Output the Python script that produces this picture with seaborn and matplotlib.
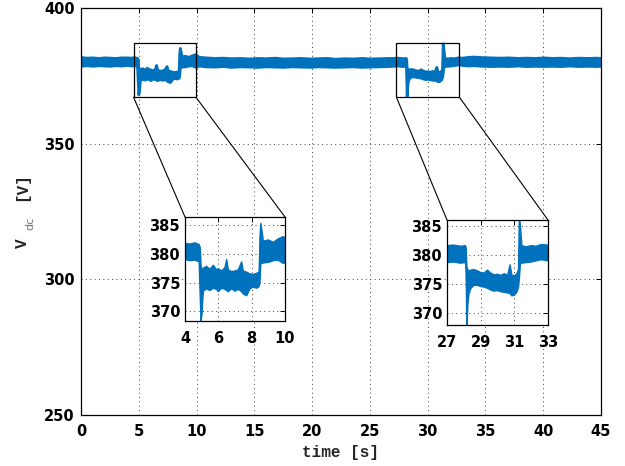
import matplotlib
matplotlib.use("Agg")
import matplotlib.pyplot as plt
import pandas as pd
import seaborn as sns
from matplotlib.patches import Rectangle, ConnectionPatch

# ---------------- data ----------------
time_s = [0.0, 0.5, 1.0, 1.5, 2.0, 2.5, 3.0, 3.5, 4.0, 4.3, 4.6, 4.85,
          4.92, 4.96, 5.02, 5.1, 5.3, 5.5, 5.7, 5.9, 6.0, 6.2, 6.4, 6.5,
          6.6, 6.8, 7.0, 7.2, 7.4, 7.5, 7.7, 7.9, 8.1, 8.3, 8.45, 8.5,
          8.55, 8.62, 8.7, 9.0, 9.3, 9.6, 9.9, 10.2,
          10.8, 11.5, 12.3, 13.0, 13.8, 14.5, 15.3, 16.0, 16.8, 17.5,
          18.3, 19.0, 19.8, 20.5, 21.3, 22.0, 22.8, 23.5, 24.3, 25.0,
          25.8, 26.5, 27.0, 27.4, 27.8, 28.1,
          28.14, 28.18, 28.24, 28.3, 28.4, 28.6, 28.8, 29.0, 29.2, 29.4,
          29.6, 29.8, 30.0, 30.2, 30.4, 30.6, 30.75, 30.85, 31.0, 31.15,
          31.25, 31.3, 31.36, 31.45, 31.7, 32.0, 32.3, 32.6, 33.0,
          33.5, 34.0, 34.7, 35.5, 36.3, 37.0, 37.8, 38.5, 39.3, 40.0,
          40.8, 41.5, 42.3, 43.0, 43.8, 44.5, 45.0]
v_high = [381.9, 381.7, 381.8, 381.6, 381.8, 381.7, 381.6, 381.8, 381.8, 381.7, 381.9, 381.6,
          381.0, 378.0, 377.0, 377.5, 377.8, 377.3, 378.0, 377.2, 377.4, 377.0, 377.6, 379.0,
          377.2, 376.9, 377.0, 377.2, 378.6, 377.0, 376.8, 376.5, 376.4, 376.6, 376.8, 383.0,
          385.3, 384.0, 382.2, 382.4, 382.0, 382.6, 383.0, 382.0,
          381.8, 381.6, 381.7, 381.5, 381.6, 381.4, 381.6, 381.5, 381.7, 381.4,
          381.5, 381.6, 381.4, 381.5, 381.6, 381.3, 381.5, 381.4, 381.6, 381.4,
          381.5, 381.6, 381.6, 381.7, 381.5, 381.6,
          381.2, 378.0, 377.5, 377.2, 377.4, 377.5, 377.3, 377.0, 376.9, 377.4,
          376.9, 376.6, 376.7, 376.5, 376.8, 376.5, 378.3, 376.6, 376.4, 376.8,
          377.5, 387.0, 385.0, 381.6, 381.4, 381.6, 381.5, 381.8, 381.7,
          382.0, 382.1, 381.9, 381.8, 381.7, 381.8, 381.6, 381.7, 381.6, 381.8,
          381.6, 381.7, 381.5, 381.7, 381.6, 381.7, 381.6]
v_low = [378.7, 378.9, 378.7, 378.9, 378.8, 378.7, 378.9, 378.8, 379.0, 378.8, 378.9, 378.6,
         372.0, 368.2, 369.5, 373.5, 373.9, 373.6, 374.0, 373.8, 373.4, 374.0, 373.8, 373.6,
         373.4, 373.9, 373.5, 373.8, 373.4, 373.0, 372.7, 373.9, 374.2, 374.0, 374.3, 375.0,
         378.5, 378.3, 378.4, 378.5, 378.8, 378.9, 378.3, 378.8,
         378.5, 378.4, 378.6, 378.3, 378.5, 378.4, 378.3, 378.5, 378.4, 378.3,
         378.5, 378.4, 378.3, 378.5, 378.4, 378.3, 378.4, 378.5, 378.3, 378.4,
         378.5, 378.6, 378.7, 378.8, 378.6, 378.7,
         377.0, 367.5, 371.5, 373.2, 374.2, 374.8, 374.8, 374.6, 374.5, 374.3,
         374.0, 373.8, 373.9, 373.7, 373.6, 373.5, 373.4, 373.0, 373.1, 373.6,
         374.5, 376.0, 378.5, 378.6, 378.7, 378.8, 379.0, 379.2, 379.0,
         378.8, 378.9, 378.7, 378.6, 378.7, 378.6, 378.8, 378.6, 378.7, 378.6,
         378.7, 378.6, 378.8, 378.6, 378.7, 378.6, 378.7]

main_xticks = [0, 5, 10, 15, 20, 25, 30, 35, 40, 45]
main_yticks = [250, 300, 350, 400]
inset1_xticks = [4, 6, 8, 10]
inset2_xticks = [27, 29, 31, 33]
inset_yticks = [370, 375, 380, 385]

# ---------------- styling ----------------
sns.set_theme(style="white")
plt.rcParams["font.family"] = ["DejaVu Sans"]
BLUE = "#0072BD"

df = pd.DataFrame({"time": time_s + time_s, "V": v_low + v_high})

W, H = 625, 466
fig = plt.figure(figsize=(W / 100, H / 100), dpi=100)


def px_axes(left, top, right, bottom):
    return fig.add_axes([left / W, 1 - bottom / H, (right - left) / W, (bottom - top) / H])


def draw_signal(ax, edge_lw):
    sns.lineplot(data=df, x="time", y="V", ax=ax, color=BLUE, estimator="mean",
                 errorbar=("pi", 100), linewidth=1.0, legend=False,
                 err_kws=dict(alpha=1, linewidth=edge_lw, edgecolor=BLUE, facecolor=BLUE))


def style(ax, xticks, yticks, xlim, ylim, size, xpad, ypad):
    ax.set_xlim(*xlim)
    ax.set_ylim(*ylim)
    ax.set_xticks(xticks)
    ax.set_yticks(yticks)
    ax.set_xticklabels([str(v) for v in xticks], fontweight="bold", fontsize=size)
    ax.set_yticklabels([str(v) for v in yticks], fontweight="bold", fontsize=size)
    ax.set_xlabel("")
    ax.set_ylabel("")
    ax.grid(True, linestyle=(0, (1, 3.5)), color="0.25", linewidth=0.7)
    ax.tick_params(axis="both", direction="in", top=True, right=True, length=3.5,
                   width=0.7, color="black", labelcolor="black")
    ax.tick_params(axis="x", pad=xpad)
    ax.tick_params(axis="y", pad=ypad)
    for s in ax.spines.values():
        s.set_color("black")
        s.set_linewidth(0.9)
        s.set_visible(True)
    ax.set_facecolor("white")


# main axes
ax = px_axes(81, 8, 601, 415)
draw_signal(ax, 2.0)
style(ax, main_xticks, main_yticks, (0, 45), (250, 400), 10.5, 6.5, 4.5)

# zoom rectangles on the main axes
zoom_boxes = [(4.55, 9.95), (27.3, 32.75)]
for (x0, x1) in zoom_boxes:
    ax.add_patch(Rectangle((x0, 367.1), x1 - x0, 387 - 367.1, fill=False,
                           edgecolor="black", linewidth=0.9, zorder=5))

# insets
in1 = px_axes(185, 217, 285, 321)
draw_signal(in1, 1.0)
style(in1, inset1_xticks, inset_yticks, (4, 10), (368.3, 386.4), 10.5, 7, 3.5)

in2 = px_axes(447, 220, 548, 325)
draw_signal(in2, 1.0)
style(in2, inset2_xticks, inset_yticks, (27, 33), (368.0, 386.0), 10.5, 7, 3.5)

# connectors
for (x0, x1), inax in zip(zoom_boxes, [in1, in2]):
    for xd, xa in [(x0, 0), (x1, 1)]:
        cp = ConnectionPatch(xyA=(xd, 367.1), coordsA=ax.transData,
                             xyB=(xa, 1), coordsB=inax.transAxes,
                             color="black", linewidth=0.8)
        fig.add_artist(cp)

# axis labels
fig.text(341 / W, 1 - 452 / H, "time [s]", ha="center", va="center",
         family="Liberation Mono", fontweight="bold", fontsize=11.5)
fig.text(22 / W, 1 - 243 / H, "V", ha="center", va="center", rotation=90,
         family="Liberation Mono", fontweight="bold", fontsize=11.5)
fig.text(30 / W, 1 - 223.5 / H, "dc", ha="center", va="center", rotation=90,
         family="DejaVu Sans", fontsize=8, color="0.45")
fig.text(22 / W, 1 - 187 / H, "[V]", ha="center", va="center", rotation=90,
         family="Liberation Mono", fontweight="bold", fontsize=11.5)

fig.savefig("out.png", dpi=100)
